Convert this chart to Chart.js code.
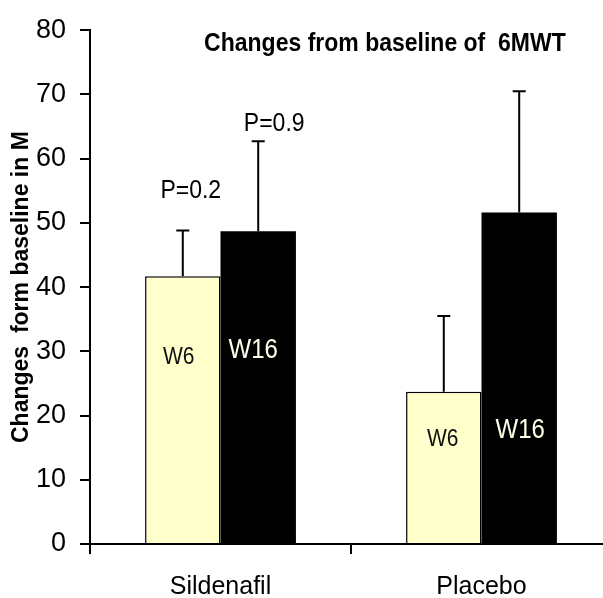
<!DOCTYPE html>
<html><head><meta charset="utf-8">
<script src="https://cdn.jsdelivr.net/npm/chart.js@4"></script>
<style>
html,body{margin:0;padding:0;overflow:hidden;background:#fff;width:603px;height:598px}
#wrap{width:640px;height:598px}
</style></head>
<body><div id="wrap"><canvas id="c" width="640" height="598"></canvas></div>
<script>
const categories = ['Sildenafil', 'Placebo'];
const seriesNames = ['W6', 'W16'];
const w6Values = [41.7, 23.7];
const w16Values = [48.7, 51.6];
const w6ErrUp = [7.1, 11.8];
const w16ErrUp = [14.0, 18.9];
const yTickValues = [0, 10, 20, 30, 40, 50, 60, 70, 80];
const pLabels = ['P=0.2', 'P=0.9'];
const chartTitle = 'Changes from baseline of  6MWT';
const yTitle = 'Changes  form baseline in M';

const FONT = "'Liberation Sans', Arial, sans-serif";
const errors = [w6ErrUp, w16ErrUp];

const errorBars = {
  id: 'errorBars',
  afterDatasetsDraw(chart) {
    const ctx = chart.ctx, ys = chart.scales.y;
    ctx.save();
    ctx.strokeStyle = '#000';
    ctx.lineWidth = 2;
    chart.data.datasets.forEach((ds, di) => {
      const meta = chart.getDatasetMeta(di);
      meta.data.forEach((el, i) => {
        const top = ys.getPixelForValue(ds.data[i] + errors[di][i]);
        ctx.beginPath();
        ctx.moveTo(el.x, el.y);
        ctx.lineTo(el.x, top);
        ctx.moveTo(el.x - 6.5, top);
        ctx.lineTo(el.x + 6.5, top);
        ctx.stroke();
      });
    });
    ctx.restore();
  }
};

// text annotations placed in data space: dataset index, category index, value (baseline), x nudge
const annotations = [
  {text: pLabels[0], ds: 0, cat: 0, v: 53.9, dx: 8, font: '23px ' + FONT, color: '#000'},
  {text: pLabels[1], ds: 1, cat: 0, v: 64.3, dx: 16, font: '23px ' + FONT, color: '#000'},
  {text: seriesNames[0], ds: 0, cat: 0, v: 28.1, dx: -4, font: '21px ' + FONT, color: '#111'},
  {text: seriesNames[1], ds: 1, cat: 0, v: 29.0, dx: -5, font: '24px ' + FONT, color: '#FFFFE8'},
  {text: seriesNames[0], ds: 0, cat: 1, v: 15.2, dx: -1, font: '21px ' + FONT, color: '#111'},
  {text: seriesNames[1], ds: 1, cat: 1, v: 16.5, dx: 1, font: '24px ' + FONT, color: '#FFFFE8'}
];

function tallText(ctx, text, x, y) {
  ctx.save();
  ctx.translate(x, y);
  ctx.scale(1, 1.15);
  ctx.fillText(text, 0, 0);
  ctx.restore();
}

const textPlugin = {
  id: 'texts',
  afterDraw(chart) {
    const ctx = chart.ctx, ys = chart.scales.y, ca = chart.chartArea;
    ctx.save();
    ctx.textAlign = 'center';
    ctx.textBaseline = 'alphabetic';
    annotations.forEach(a => {
      const el = chart.getDatasetMeta(a.ds).data[a.cat];
      ctx.font = a.font;
      ctx.fillStyle = a.color;
      tallText(ctx, a.text, el.x + a.dx, ys.getPixelForValue(a.v));
    });
    ctx.font = 'bold 23px ' + FONT;
    ctx.fillStyle = '#000';
    tallText(ctx, chartTitle, ca.left + 0.565 * (ca.right - ca.left), ys.getPixelForValue(76.7));
    ctx.restore();
  }
};

new Chart(document.getElementById('c'), {
  type: 'bar',
  data: {
    labels: categories,
    datasets: [
      {label: seriesNames[0], data: w6Values, backgroundColor: '#FFFFCC', borderColor: '#000', borderWidth: 1.5},
      {label: seriesNames[1], data: w16Values, backgroundColor: '#000', borderColor: '#000', borderWidth: 0}
    ]
  },
  options: {
    responsive: false,
    animation: false,
    datasets: {bar: {categoryPercentage: 0.578, barPercentage: 1.0}},
    layout: {padding: {top: 29, right: 28, left: 0, bottom: 0}},
    plugins: {legend: {display: false}, tooltip: {enabled: false}, title: {display: false}},
    scales: {
      x: {
        type: 'category',
        offset: true,
        grid: {display: true, offset: true, drawOnChartArea: false, drawTicks: true, tickLength: 10, color: '#000', lineWidth: 2},
        border: {display: true, color: '#000', width: 2},
        ticks: {font: {family: FONT, size: 25}, color: '#000', padding: 18},
        afterFit(s) { s.height = 54; }
      },
      y: {
        min: 0, max: 80,
        afterBuildTicks(s) { s.ticks = yTickValues.map(v => ({value: v})); },
        grid: {display: true, drawOnChartArea: false, drawTicks: true, tickLength: 10, color: '#000', lineWidth: 2},
        border: {display: true, color: '#000', width: 2},
        ticks: {font: {family: FONT, size: 27}, color: '#000', padding: 14},
        title: {display: true, text: yTitle, font: {family: FONT, size: 23, weight: 'bold'}, color: '#000', padding: {top: 8, bottom: 0}},
        afterFit(s) { s.width = 90; }
      }
    }
  },
  plugins: [errorBars, textPlugin]
});
</script>
</body></html>
